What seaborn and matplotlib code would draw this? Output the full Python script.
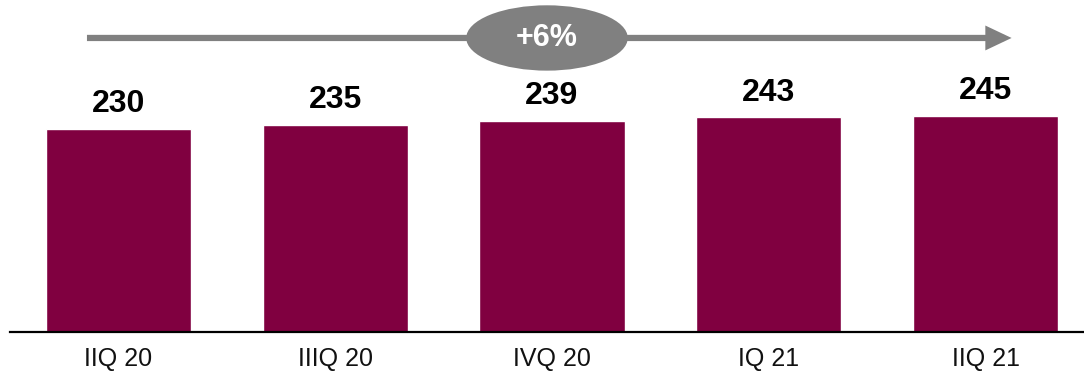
import matplotlib
matplotlib.use("Agg")
import matplotlib.pyplot as plt
from matplotlib.patches import Ellipse
import seaborn as sns

# Quarterly values
categories = ["IIQ 20", "IIIQ 20", "IVQ 20", "IQ 21", "IIQ 21"]
values = [230, 235, 239, 243, 245]
growth_label = "+6%"

BAR_COLOR = "#800040"
GREY = "#808080"

sns.set_theme(style="white")
plt.rcParams["font.family"] = ["Liberation Sans", "DejaVu Sans"]

fig = plt.figure(figsize=(10.84, 3.76), dpi=100)
ax = fig.add_axes([10 / 1084, 44 / 376, 1 - 10 / 1084, 332 / 376])

sns.barplot(x=categories, y=values, color=BAR_COLOR, saturation=1,
            width=0.67, ax=ax)

ax.set_xlim(-0.5, 4.454)
ax.set_ylim(0, 376)

for side in ["top", "left", "right"]:
    ax.spines[side].set_visible(False)
ax.spines["bottom"].set_color("black")
ax.spines["bottom"].set_linewidth(1.6)
ax.set_yticks([])
ax.set_xlabel("")
ax.set_ylabel("")
ax.tick_params(axis="x", length=0, pad=11, labelsize=18, labelcolor="#111111")

# Value labels above each bar
ax.bar_label(ax.containers[0], labels=[str(v) for v in values],
             padding=7, fontsize=23, fontweight="bold", color="black")

# Growth arrow across the top with the percentage badge
ax.annotate("", xy=(4.12, 333), xytext=(-0.145, 333),
            arrowprops=dict(arrowstyle="-|>,head_length=0.95,head_width=0.45",
                            color=GREY, lw=4.5, shrinkA=0, shrinkB=0,
                            joinstyle="miter", capstyle="butt"),
            annotation_clip=False)
ax.add_patch(Ellipse((1.977, 333), width=0.745, height=74, facecolor=GREY,
                     edgecolor="none", zorder=5, clip_on=False))
ax.text(1.977, 333, growth_label, ha="center", va="center", color="white",
        fontsize=22, fontweight="bold", zorder=6)

fig.savefig("out.png", dpi=100)
